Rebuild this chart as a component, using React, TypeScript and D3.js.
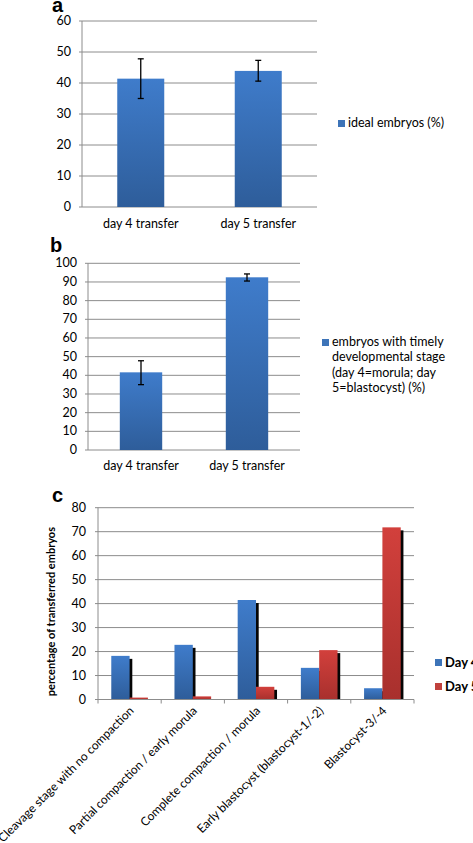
import React from 'react';
import * as d3 from 'd3';

// panel a / b categories
const transferDays = ['day 4 transfer', 'day 5 transfer'];

// panel a: ideal embryos (%)
const idealMean = [41.4, 43.9];
const idealLow = [35.0, 40.6];
const idealHigh = [47.8, 47.3];

// panel b: timely developmental stage (%)
const timelyMean = [41.6, 92.5];
const timelyLow = [35.0, 90.5];
const timelyHigh = [47.8, 94.3];
const timelyLegend = ['embryos with timely', 'developmental stage', '(day 4=morula; day', '5=blastocyst) (%)'];

// panel c: stage of transferred embryos
const stages = [
  'Cleavage stage with no compaction',
  'Partial compaction / early morula',
  'Complete compaction / morula',
  'Early blastocyst (blastocyst-1/-2)',
  'Blastocyst-3/-4',
];
const seriesNames = ['Day 4', 'Day 5'];
const day4Pct = [18.2, 22.8, 41.5, 13.2, 4.7];
const day5Pct = [0.8, 1.3, 5.3, 20.6, 71.8];

const FONT = "Lato, 'Open Sans', 'Liberation Sans', sans-serif";
const GRID = '#8c8c8c';
const INK = '#000';

interface SimpleProps {
  label: string;
  labelX: number;
  labelY: number;
  x0: number;
  x1: number;
  yTop: number;
  yBottom: number;
  yMax: number;
  tickLabelX: number;
  means: number[];
  low: number[];
  high: number[];
  catLabelY: number;
  legendX: number;
  legendY: number;
  legendLines: string[];
}

const SimpleBars: React.FC<SimpleProps> = (p) => {
  const x = d3.scaleBand<string>().domain(transferDays).range([p.x0, p.x1]).paddingInner(0.6).paddingOuter(0.3);
  const y = d3.scaleLinear().domain([0, p.yMax]).range([p.yBottom, p.yTop]);
  const ticks = y.ticks(p.yMax / 10);
  return (
    <g>
      <text x={p.labelX} y={p.labelY} fontFamily="Arial, sans-serif" fontWeight="bold" fontSize={20}>{p.label}</text>
      {ticks.map((t) => (
        <g key={t}>
          <line x1={p.x0 - 3} x2={p.x1} y1={y(t)} y2={y(t)} stroke={GRID} strokeWidth={1} />
          <text x={p.tickLabelX} y={y(t) + 4} textAnchor="end" fontFamily={FONT} fontSize={12.5} fill={INK}>{t}</text>
        </g>
      ))}
      <line x1={p.x0} x2={p.x0} y1={p.yTop} y2={p.yBottom} stroke={GRID} />
      {transferDays.map((d, i) => {
        const bx = x(d)!;
        const cx = bx + x.bandwidth() / 2;
        return (
          <g key={d}>
            <rect x={bx} y={y(p.means[i])} width={x.bandwidth()} height={p.yBottom - y(p.means[i])} fill="url(#blueGrad)" />
            <line x1={cx} x2={cx} y1={y(p.high[i])} y2={y(p.low[i])} stroke="#000" strokeWidth={1.3} />
            <line x1={cx - 3} x2={cx + 3} y1={y(p.high[i])} y2={y(p.high[i])} stroke="#000" strokeWidth={1.3} />
            <line x1={cx - 3} x2={cx + 3} y1={y(p.low[i])} y2={y(p.low[i])} stroke="#000" strokeWidth={1.3} />
            <text x={cx} y={p.catLabelY} textAnchor="middle" fontFamily={FONT} fontSize={12.5} fill={INK}>{d}</text>
          </g>
        );
      })}
      <rect x={p.legendX} y={p.legendY - 7} width={7} height={7} fill="#3d74b8" />
      {p.legendLines.map((l, i) => (
        <text key={i} x={p.legendX + 10} y={p.legendY + i * 15.3} fontFamily={FONT} fontSize={12.5} fill={INK}>{l}</text>
      ))}
    </g>
  );
};

const StageBars: React.FC = () => {
  const x0 = 98, x1 = 414, yTop = 507.7, yBottom = 699.5;
  const x = d3.scaleBand<string>().domain(stages).range([x0, x1]).paddingInner(0.42).paddingOuter(0.21);
  const xs = d3.scaleBand<string>().domain(seriesNames).range([0, x.bandwidth()]);
  const y = d3.scaleLinear().domain([0, 80]).range([yBottom, yTop]);
  const series = [day4Pct, day5Pct];
  const fills = ['url(#blueGrad)', 'url(#redGrad)'];
  const legendFill = ['#3d74b8', '#c0413d'];
  const step = x.step();
  return (
    <g>
      <text x={52} y={502} fontFamily="Arial, sans-serif" fontWeight="bold" fontSize={20}>c</text>
      {y.ticks(8).map((t) => (
        <g key={t}>
          <line x1={x0 - 3} x2={x1} y1={y(t)} y2={y(t)} stroke={GRID} />
          <text x={86} y={y(t) + 4} textAnchor="end" fontFamily={FONT} fontSize={12.5} fill={INK}>{t}</text>
        </g>
      ))}
      <line x1={x0} x2={x0} y1={yTop} y2={yBottom} stroke={GRID} />
      {d3.range(stages.length + 1).map((i) => (
        <line key={i} x1={x0 + i * step} x2={x0 + i * step} y1={yBottom} y2={yBottom + 4} stroke={GRID} />
      ))}
      <text transform={`translate(55,${(yTop + yBottom) / 2 + 8}) rotate(-90)`} textAnchor="middle" fontFamily={FONT} fontWeight="bold" fontSize={11} fill={INK}>
        percentage of transferred embryos
      </text>
      {stages.map((s, i) => (
        <g key={s}>
          {series.map((vals, k) => {
            const bx = x(s)! + xs(seriesNames[k])!;
            const w = xs.bandwidth();
            const top = y(vals[i]);
            return (
              <g key={k}>
                <rect x={bx + 2.7} y={Math.min(top + 3, yBottom)} width={w} height={Math.max(0, yBottom - top - 3)} fill="#050505" />
                <rect x={bx} y={top} width={w} height={yBottom - top} fill={fills[k]} />
              </g>
            );
          })}
          <text
            transform={`translate(${x(s)! + x.bandwidth() / 2 + 5},${yBottom + 12}) rotate(-45)`}
            textAnchor="end"
            fontFamily={FONT}
            fontSize={12}
            fill={INK}
          >
            {s}
          </text>
        </g>
      ))}
      <line x1={x0} x2={x1} y1={yBottom} y2={yBottom} stroke={GRID} />
      {seriesNames.map((n, k) => (
        <g key={n}>
          <rect x={435} y={659 + k * 24} width={7} height={7} fill={legendFill[k]} />
          <text x={445} y={667 + k * 24} fontFamily={FONT} fontWeight="bold" fontSize={13} fill={INK}>{n}</text>
        </g>
      ))}
    </g>
  );
};

export default function App() {
  return (
    <svg width={473} height={843} style={{ position: 'absolute', left: 0, top: 0, background: '#fff' }}>
      <defs>
        <linearGradient id="blueGrad" x1="0" y1="0" x2="0" y2="1">
          <stop offset="0" stopColor="#3f7ccb" />
          <stop offset="1" stopColor="#2e5d9a" />
        </linearGradient>
        <linearGradient id="redGrad" x1="0" y1="0" x2="0" y2="1">
          <stop offset="0" stopColor="#d2403c" />
          <stop offset="1" stopColor="#a8302d" />
        </linearGradient>
      </defs>
      <rect width={473} height={843} fill="#fff" />
      <SimpleBars
        label="a" labelX={52} labelY={12}
        x0={82} x1={317} yTop={21} yBottom={207} yMax={60} tickLabelX={71}
        means={idealMean} low={idealLow} high={idealHigh}
        catLabelY={228}
        legendX={338} legendY={127} legendLines={['ideal embryos (%)']}
      />
      <SimpleBars
        label="b" labelX={50} labelY={252}
        x0={88} x1={300} yTop={263.3} yBottom={450} yMax={100} tickLabelX={77}
        means={timelyMean} low={timelyLow} high={timelyHigh}
        catLabelY={470}
        legendX={322} legendY={346} legendLines={timelyLegend}
      />
      <StageBars />
    </svg>
  );
}
